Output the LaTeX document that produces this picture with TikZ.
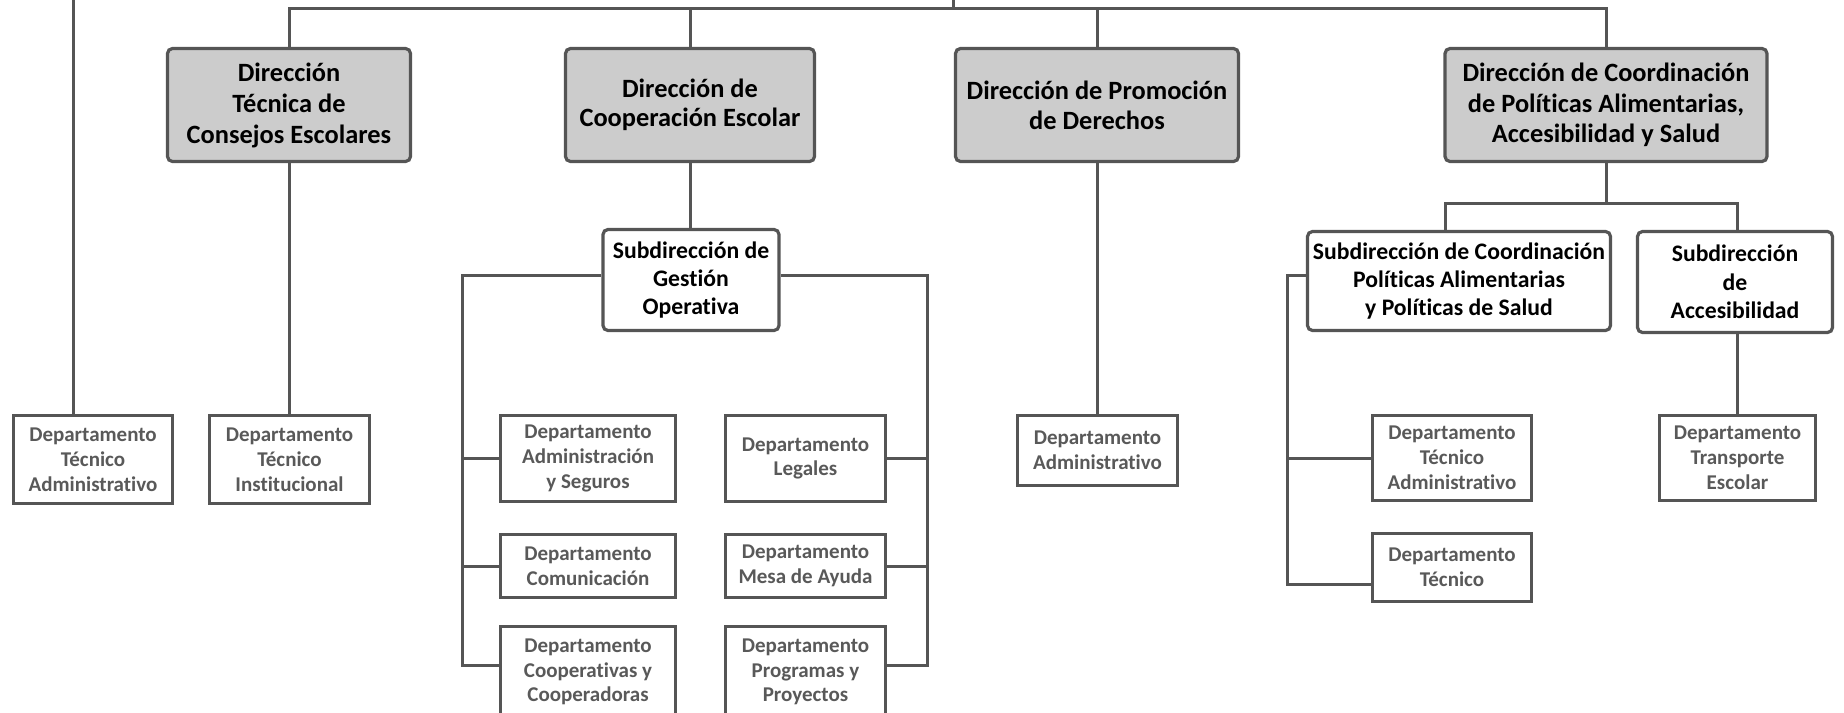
\documentclass[tikz,border=0pt]{standalone}
\usepackage{fontspec}
\setmainfont{Carlito}[Ligatures=NoCommon]
\definecolor{ln}{HTML}{555555}
\definecolor{dtx}{HTML}{595959}
\definecolor{fl}{HTML}{CCCCCC}
\begin{document}
\begin{tikzpicture}[x=1pt,y=-1pt,
  conn/.style={draw=ln,line width=3pt},
  dirbox/.style={draw=ln,line width=3.2pt,fill=fl,rounded corners=5pt,align=center,inner sep=0pt,text=black,minimum height=113pt},
  subbox/.style={draw=ln,line width=3.2pt,fill=white,rounded corners=5pt,align=center,inner sep=0pt,text=black,font=\fontsize{23.7}{28.3}\selectfont\bfseries},
  deptbox/.style={draw=ln,line width=2.6pt,fill=white,align=center,inner sep=0pt,font=\fontsize{21}{24.8}\selectfont\bfseries,text=dtx},
  ]
\useasboundingbox (0,0) rectangle (1844,712);
\clip (0,0) rectangle (1844,712);

% Direcciones
\node[dirbox,minimum width=243pt,font=\fontsize{26.4}{31}\selectfont\bfseries] (DTCE) at (289,105) {Dirección\\Técnica de\\Consejos Escolares};
\node[dirbox,minimum width=249pt,font=\fontsize{26.4}{29}\selectfont\bfseries] (DCE) at (690,105) {Dirección de\\Cooperación Escolar};
\node[dirbox,minimum width=283pt,font=\fontsize{26.4}{30}\selectfont\bfseries] (DPD) at (1097,105) {Dirección de Promoción\\de Derechos};
\node[dirbox,minimum width=322pt,font=\fontsize{26.4}{30.5}\selectfont\bfseries] (DCP) at (1606,105) {Dirección de Coordinación\\de Políticas Alimentarias,\\Accesibilidad y Salud};

% Subdirecciones
\node[subbox,minimum width=176pt,minimum height=101pt] (SGO) at (691,280) {Subdirección de\\Gestión\\Operativa};
\node[subbox,minimum width=303pt,minimum height=99pt] (SCPA) at (1459,281) {Subdirección de Coordinación\\Políticas Alimentarias\\y Políticas de Salud};
\node[subbox,minimum width=195pt,minimum height=101pt] (SA) at (1735,282) {Subdirección\\de\\Accesibilidad};

% Departamentos
\node[deptbox,minimum width=159pt,minimum height=88pt] (DTA) at (93,459.5) {Departamento\\Técnico\\Administrativo};
\node[deptbox,minimum width=160pt,minimum height=88pt] (DTI) at (289.5,459.5) {Departamento\\Técnico\\Institucional};
\node[deptbox,minimum width=175pt,minimum height=86pt] (C1) at (588,458.5) {Departamento\\Administración\\y Seguros};
\node[deptbox,minimum width=175pt,minimum height=63pt] (C2) at (588,566) {Departamento\\Comunicación};
\node[deptbox,minimum width=175pt,minimum height=91pt] (C3) at (588,672) {Departamento\\Cooperativas y\\Cooperadoras};
\node[deptbox,minimum width=160pt,minimum height=86pt] (R1) at (805.5,458.5) {Departamento\\Legales};
\node[deptbox,minimum width=160pt,minimum height=63pt] (R2) at (805.5,566) {Departamento\\Mesa de Ayuda};
\node[deptbox,minimum width=160pt,minimum height=91pt] (R3) at (805.5,672) {Departamento\\Programas y\\Proyectos};
\node[deptbox,minimum width=160pt,minimum height=70pt] (DA) at (1097.5,450.5) {Departamento\\Administrativo};
\node[deptbox,minimum width=159pt,minimum height=85pt] (TA) at (1452,458) {Departamento\\Técnico\\Administrativo};
\node[deptbox,minimum width=159pt,minimum height=68pt] (DT) at (1452,567.5) {Departamento\\Técnico};
\node[deptbox,minimum width=156pt,minimum height=85pt] (TR) at (1737.5,458) {Departamento\\Transporte\\Escolar};

% Conectores
\coordinate (root) at (953,0);
\coordinate (bus) at (953,8);
\coordinate (lefttop) at (73,0);
\draw[conn] (root) -- (bus);
\draw[conn] (DTCE.north) |- (bus) -| (DCP.north);
\draw[conn] (DCE.north) -- (DCE.north |- bus);
\draw[conn] (DPD.north) -- (DPD.north |- bus);
\draw[conn] (lefttop) -- (lefttop |- DTA.north);
\draw[conn] (DTCE.south) -- (DTCE.south |- DTI.north);
\draw[conn] (DCE.south) -- (DCE.south |- SGO.north);
\draw[conn] (DPD.south) -- (DPD.south |- DA.north);

% Cooperacion bracket
\coordinate (cbl) at (462,275);
\coordinate (cblb) at (462,665);
\coordinate (cbr) at (927,275);
\coordinate (cbrb) at (927,665);
\draw[conn] (SGO.west |- cbl) -- (cbl) -- (cblb) -- (cblb -| C3.west);
\draw[conn] (C1.west) -- (C1.west -| cbl);
\draw[conn] (C2.west) -- (C2.west -| cbl);
\draw[conn] (SGO.east |- cbr) -- (cbr) -- (cbrb) -- (cbrb -| R3.east);
\draw[conn] (R1.east) -- (R1.east -| cbr);
\draw[conn] (R2.east) -- (R2.east -| cbr);

% Coordinacion
\coordinate (sbus) at (1606,203);
\coordinate (sbusl) at (1445,203);
\coordinate (sbusr) at (1737,203);
\draw[conn] (DCP.south) -- (sbus);
\draw[conn] (SCPA.north -| sbusl) |- (sbusr) -- (SA.north -| sbusr);
\coordinate (sbl) at (1287,275);
\coordinate (sblb) at (1287,584);
\draw[conn] (SCPA.west |- sbl) -- (sbl) -- (sblb) -- (sblb -| DT.west);
\draw[conn] (TA.west) -- (TA.west -| sbl);
\draw[conn] (SA.south -| sbusr) -- (sbusr |- TR.north);
\end{tikzpicture}
\end{document}
